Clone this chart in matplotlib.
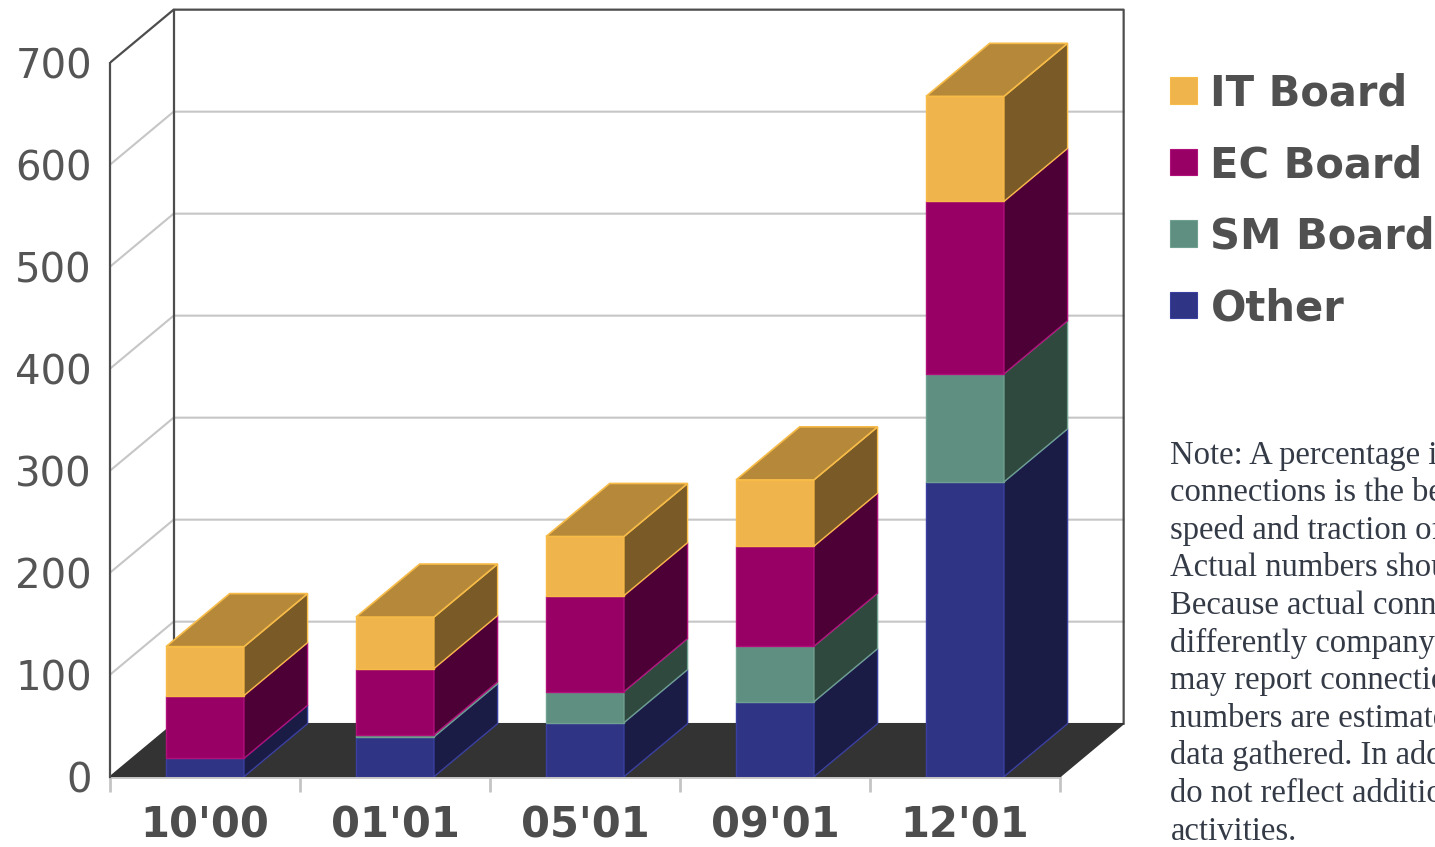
import matplotlib
matplotlib.use("Agg")
import matplotlib.pyplot as plt
from matplotlib.patches import Polygon, Rectangle

# data (stack order: bottom -> top)
categories = ["10'00", "01'01", "05'01", "09'01", "12'01"]
other = [18, 39, 53, 73.5, 289]
sm_board = [0, 2, 30.5, 54.5, 106]
ec_board = [61.5, 65, 94, 98, 169]
it_board = [48, 50.5, 58, 65, 103]
yticks = [0, 100, 200, 300, 400, 500, 600, 700]

series = [
    # name, values, front, side, top, edge
    ("Other", other, "#2f3485", "#1a1c45", "#24286a", "#3a40a0"),
    ("SM Board", sm_board, "#5f8f80", "#30493f", "#466b60", "#6fa090"),
    ("EC Board", ec_board, "#990066", "#4d0035", "#73004d", "#b0107a"),
    ("IT Board", it_board, "#f0b44c", "#7a5a26", "#b5883a", "#f7bb48"),
]

note_lines = [
    "Note: A percentage increase in",
    "connections is the best measure of the",
    "speed and traction of adoption.",
    "Actual numbers should be viewed with care.",
    "Because actual connections are counted",
    "differently company-to-company, and some",
    "may report connections differently, these",
    "numbers are estimates based on the public",
    "data gathered. In addition, these numbers",
    "do not reflect additional non-connection",
    "activities.",
]

W, H = 1435, 847
fig = plt.figure(figsize=(W / 100, H / 100), dpi=100)

PXX, PXY = 190.0, 1.02          # pixels per category / per unit
X0, Y0 = 110, 776.7             # front-plane origin in pixels
XMAX, YMAX = 5.4, 760
ax = fig.add_axes([X0 / W, (H - Y0) / H, XMAX * PXX / W, YMAX * PXY / H])
ax.set_xlim(0, XMAX)
ax.set_ylim(0, YMAX)

n = len(categories)
DX, DY = 0.335, 52              # depth offset (category units, value units)
TOP = yticks[-1]
BW = 0.41
dark = "#4d4d4d"
grid = "#c6c6c6"

# walls: grid lines on the side and back wall
for v in yticks[1:-1]:
    ax.plot([0, DX, n + DX], [v, v + DY, v + DY], color=grid, lw=1.5, zorder=1)
ax.plot([0, DX, n + DX, n + DX], [TOP, TOP + DY, TOP + DY, DY], color=dark, lw=1.6, zorder=1)
ax.plot([DX, DX], [DY, TOP + DY], color=dark, lw=1.6, zorder=1)

# floor
ax.add_patch(Polygon([(0, 0), (n, 0), (n + DX, DY), (DX, DY)], closed=True,
                     fc="#333333", ec="#333333", lw=1, zorder=2))

# stacked 3d-looking bars
for i in range(n):
    xl = i + 0.5 - BW / 2
    xr = xl + BW
    base = 0
    for name, vals, fc, sc, tc, ec in series:
        h = vals[i]
        if h <= 0:
            continue
        y0, y1 = base, base + h
        ax.add_patch(Rectangle((xl, y0), BW, h, fc=fc, ec=ec, lw=1, zorder=3))
        ax.add_patch(Polygon([(xr, y0), (xr + DX, y0 + DY), (xr + DX, y1 + DY), (xr, y1)],
                             closed=True, fc=sc, ec=ec, lw=1, zorder=3))
        base = y1
    ax.add_patch(Polygon([(xl, base), (xr, base), (xr + DX, base + DY), (xl + DX, base + DY)],
                         closed=True, fc=tc, ec=ec, lw=1.2, zorder=3))

# axes decoration
for s in ("top", "right"):
    ax.spines[s].set_visible(False)
ax.spines["left"].set_bounds(0, TOP)
ax.spines["left"].set_color(dark)
ax.spines["left"].set_linewidth(1.6)
ax.spines["bottom"].set_bounds(0, n)
ax.spines["bottom"].set_color("#c4c4c4")
ax.spines["bottom"].set_linewidth(2)
ax.spines["bottom"].set_zorder(0.5)

ax.set_yticks(yticks)
ax.tick_params(axis="y", length=0, pad=13, labelsize=29, labelcolor="#555555")
ax.set_xticks(range(n + 1), labels=[""] * (n + 1))
ax.tick_params(axis="x", which="major", length=11, width=2, color="#c4c4c4")
ax.set_xticks([i + 0.5 for i in range(n)], labels=categories, minor=True, fontweight="bold")
ax.tick_params(axis="x", which="minor", length=0, pad=20, labelsize=30, labelcolor="#4d4d4d")

# legend (top to bottom)
for k, (name, vals, fc, sc, tc, ec) in enumerate(reversed(series)):
    cy = 90.7 + k * 71.4
    fig.patches.append(Rectangle((1170 / W, 1 - (cy + 13.3) / H), 26.7 / W, 26.7 / H,
                                 transform=fig.transFigure, fc=fc, ec=ec, lw=0.8))
    fig.text(1210.5 / W, 1 - (cy + 15.3) / H, name, fontsize=30, fontweight="bold",
             color="#505050", va="baseline", ha="left")

# note text
for j, line in enumerate(note_lines):
    fig.text(1170.5 / W, 1 - (463.5 + j * 37.6) / H, line, fontsize=23.5,
             family="Liberation Serif", color="#343b47", va="baseline", ha="left")

fig.savefig("out.png", dpi=100)
